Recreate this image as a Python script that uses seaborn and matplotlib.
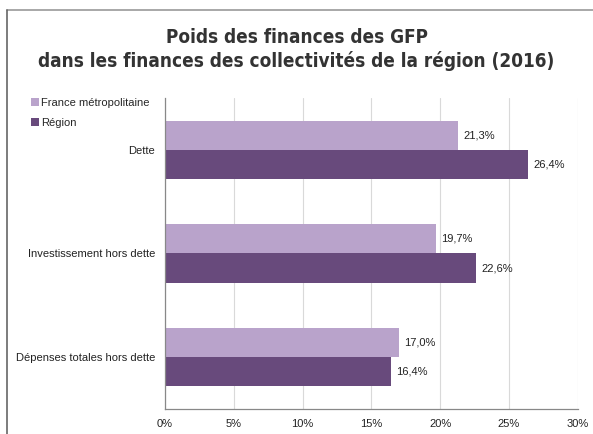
#!/usr/bin/env python3
"""Poids des finances des GFP dans les finances des collectivités de la région (2016)."""

import matplotlib.pyplot as plt
import pandas as pd
import seaborn as sns
from matplotlib import font_manager
from matplotlib.lines import Line2D
from matplotlib.ticker import FixedLocator, FuncFormatter

CATEGORIES = ["Dette", "Investissement hors dette", "Dépenses totales hors dette"]
SERIES = ["France métropolitaine", "Région"]
FRANCE = [21.3, 19.7, 17.0]
REGION = [26.4, 22.6, 16.4]

COLORS = {"France métropolitaine": "#B9A3CB", "Région": "#684A7C"}

sns.set_style("white")
plt.rcParams["font.family"] = ["Liberation Sans", "DejaVu Sans"]

# police condensée pour le titre
title_font = font_manager.FontProperties(family="DejaVu Sans", weight="bold", stretch="condensed", size=13.6)

df = pd.DataFrame(
    {
        "categorie": CATEGORIES * 2,
        "serie": [SERIES[0]] * 3 + [SERIES[1]] * 3,
        "valeur": FRANCE + REGION,
    }
)

fig = plt.figure(figsize=(5.93, 4.34), dpi=100)
ax = fig.add_axes([0.2782, 0.0576, 0.6960, 0.7166])

sns.barplot(
    data=df,
    y="categorie",
    x="valeur",
    hue="serie",
    order=CATEGORIES,
    hue_order=SERIES,
    palette=COLORS,
    orient="h",
    width=0.56,
    saturation=1,
    linewidth=0,
    ax=ax,
)

for container in ax.containers:
    ax.bar_label(
        container,
        labels=[f"{v:.1f}%".replace(".", ",") for v in container.datavalues],
        padding=4,
        fontsize=8,
        color="#222222",
    )

ax.set_xlim(0, 30)
ax.set_ylim(2.5, -0.5)
ax.set_xticks(range(0, 31, 5))
ax.xaxis.set_major_formatter(FuncFormatter(lambda v, _: f"{v:.0f}%"))
ax.tick_params(axis="x", length=2, width=0.8, color="#888888", labelsize=8, pad=5, labelcolor="#222222")
ax.grid(axis="x", color="#D9D9D9", linewidth=0.8)
ax.set_axisbelow(True)

ax.tick_params(axis="y", which="major", length=0, labelsize=8, pad=7, labelcolor="#222222")
ax.yaxis.set_minor_locator(FixedLocator([-0.5, 0.5, 1.5, 2.5]))
ax.tick_params(axis="y", which="minor", length=3, width=0.8, color="#888888")

ax.set_xlabel("")
ax.set_ylabel("")
for side in ["top", "right"]:
    ax.spines[side].set_visible(False)
for side in ["left", "bottom"]:
    ax.spines[side].set_color("#888888")
    ax.spines[side].set_linewidth(0.9)

handles, labels = ax.get_legend_handles_labels()
ax.legend_.remove()
fig.legend(
    handles,
    labels,
    loc="upper left",
    bbox_to_anchor=(0.045, 0.785),
    frameon=False,
    fontsize=8,
    handlelength=0.7,
    handleheight=0.7,
    handletextpad=0.2,
    labelspacing=0.9,
    borderaxespad=0,
)

fig.text(
    0.5,
    0.886,
    "Poids des finances des GFP\ndans les finances des collectivités de la région (2016)",
    ha="center",
    va="center",
    fontproperties=title_font,
    color="#333333",
    linespacing=1.3,
)

# cadre du graphique
fig.add_artist(Line2D([7 / 593, 1], [1 - 10 / 434, 1 - 10 / 434], transform=fig.transFigure, color="#999999", linewidth=1.2))
fig.add_artist(Line2D([7 / 593, 7 / 593], [0, 1 - 10 / 434], transform=fig.transFigure, color="#666666", linewidth=1.2))

fig.savefig("out.png", dpi=100, facecolor="white")
